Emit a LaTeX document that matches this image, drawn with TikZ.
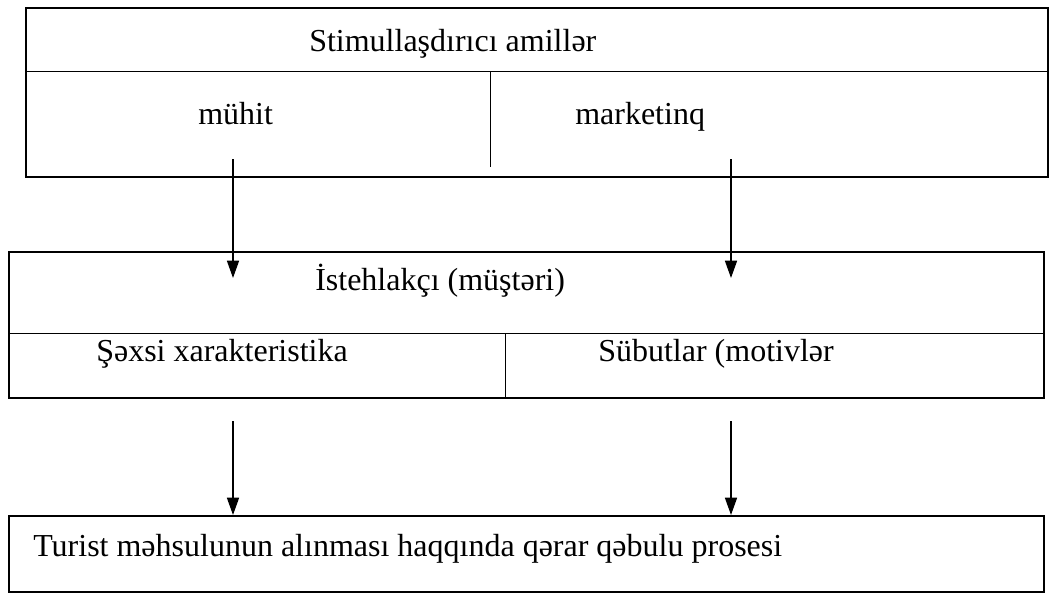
\documentclass[tikz,border=0pt]{standalone}
\usepackage{fontspec}
\setmainfont{Liberation Serif}
\usetikzlibrary{arrows.meta}
\begin{document}
\begin{tikzpicture}[x=0.75pt,y=-0.75pt,
  frame/.style={draw,line width=1.5pt,inner sep=0pt,shape=rectangle},
  label/.style={anchor=base west,inner sep=0pt,font=\fontsize{24}{28}\selectfont},
  divide/.style={line width=0.75pt},
  flow/.style={line width=1.2pt,-{Triangle[length=13pt,width=9pt]}}]
\useasboundingbox (0,0) rectangle (1053,604);
% boxes
\node[frame,minimum width=766.5pt,minimum height=126.75pt] (stim) at (537,92.5) {};
\node[frame,minimum width=776.25pt,minimum height=109.5pt] (cons) at (526.5,325) {};
\node[frame,minimum width=776.25pt,minimum height=57pt] (proc) at (526.5,554) {};
% dividers
\draw[divide] (stim.west |- 0,71) coordinate (s1) -- (stim.east |- s1);
\draw[divide] (490,71) coordinate (s2) -- (490,167);
\draw[divide] (cons.west |- 0,333) coordinate (c1) -- (cons.east |- c1);
\draw[divide] (505,333) coordinate (c2) -- (cons.south -| c2);
% texts
\node[label] (tstim) at (309,51) {Stimullaşdırıcı amillər};
\node[label] (tenv) at (198,124) {mühit};
\node[label] (tmark) at (575,124) {marketinq};
\node[label] (tcons) at (315,290) {İstehlakçı (müştəri)};
\node[label] (tpers) at (96,361) {Şəxsi xarakteristika};
\node[label] (tmot) at (598,361) {Sübutlar (motivlər};
\node[label] (tproc) at (33,556) {Turist məhsulunun alınması haqqında qərar qəbulu prosesi};
% arrows
\coordinate (a1) at (233,159);
\coordinate (a2) at (731,159);
\coordinate (b1) at (233,278);
\coordinate (b2) at (731,278);
\coordinate (d1) at (233,421);
\coordinate (d2) at (731,421);
\draw[flow] (a1) -- (b1);
\draw[flow] (a2) -- (b2);
\draw[flow] (d1) -- (proc.north -| d1);
\draw[flow] (d2) -- (proc.north -| d2);
\end{tikzpicture}
\end{document}
